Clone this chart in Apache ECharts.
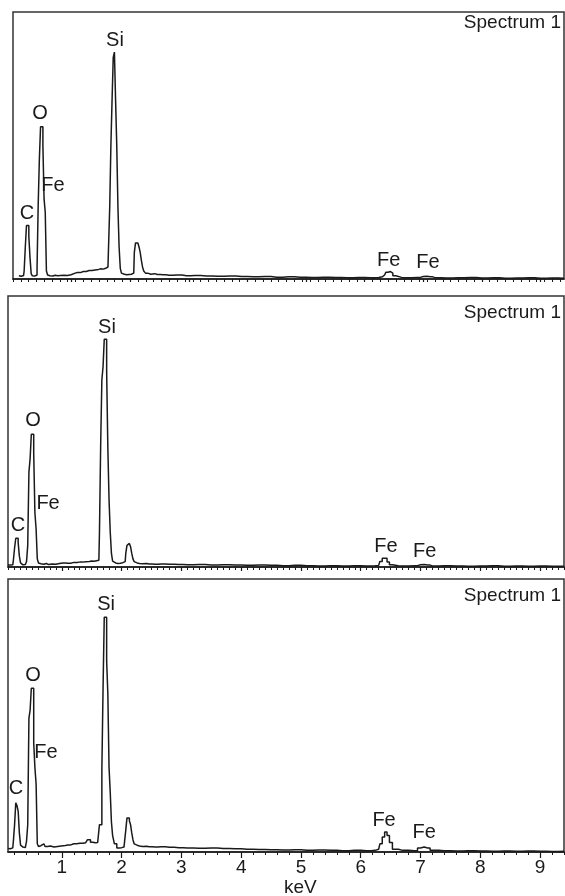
<!DOCTYPE html>
<html>
<head>
<meta charset="utf-8">
<script src="https://cdn.jsdelivr.net/npm/echarts@6/dist/echarts.min.js"></script>
<style>
  html, body { margin: 0; padding: 0; background: #fff; }
  #chart { width: 565px; height: 896px; }
</style>
</head>
<body>
<div id="chart"></div>
<script>
// energy channels (keV), shared by the three spectra
const energy = [
  0.10, 0.14, 0.18, 0.20, 0.22, 0.24, 0.26, 0.28, 0.30, 0.32,
  0.34, 0.36, 0.38, 0.40, 0.42, 0.44, 0.46, 0.48, 0.50, 0.52,
  0.54, 0.56, 0.58, 0.60, 0.62, 0.64, 0.66, 0.70, 0.74, 0.78,
  0.84, 0.90, 0.96, 1.02, 1.10, 1.20, 1.30, 1.40, 1.46, 1.50,
  1.54, 1.58, 1.62, 1.64, 1.66, 1.68, 1.70, 1.72, 1.74, 1.76,
  1.78, 1.80, 1.82, 1.84, 1.86, 1.90, 1.94, 1.98, 2.02, 2.06,
  2.08, 2.10, 2.12, 2.14, 2.16, 2.18, 2.20, 2.22, 2.24, 2.28,
  2.32, 2.38, 2.46, 2.56, 2.66, 2.80, 2.96, 3.10, 3.30, 3.50,
  3.70, 3.90, 4.10, 4.30, 4.50, 4.70, 4.90, 5.10, 5.30, 5.50,
  5.70, 5.90, 6.10, 6.24, 6.30, 6.34, 6.38, 6.42, 6.46, 6.50,
  6.56, 6.70, 6.90, 7.00, 7.06, 7.12, 7.20, 7.40, 7.60, 7.80,
  8.00, 8.20, 8.40, 8.60, 8.80, 9.00, 9.20, 9.40
];
const countsTop = [
  1.2, 1.0, 1.3, 3, 12, 20, 20, 16, 8, 2,
  1.2, 1.1, 1.2, 1.5, 4, 28, 45, 57, 57, 50,
  30, 25, 3, 1.5, 1.2, 1.3, 1.1, 1.4, 1.2, 1.3,
  1.4, 1.3, 1.6, 2.2, 2.4, 2.8, 3.2, 3.4, 3.6, 3.8,
  3.7, 4.0, 4.5, 5, 27, 50, 67, 83, 85, 67,
  50, 27, 12, 4, 2.2, 1.8, 1.6, 1.7, 1.8, 2.2,
  10, 13.5, 13.5, 13, 12, 10, 7, 4.5, 3, 2.2,
  1.8, 2.0, 1.7, 1.6, 1.4, 1.5, 1.2, 1.3, 1.1, 1.0,
  1.1, 0.9, 0.8, 0.9, 0.7, 0.8, 0.7, 0.6, 0.7, 0.6,
  0.5, 0.6, 0.5, 0.6, 0.8, 1.5, 2.5, 2.8, 2.2, 1.2,
  0.6, 0.5, 0.6, 0.9, 1.0, 0.8, 0.5, 0.4, 0.5, 0.6,
  0.4, 0.5, 0.3, 0.4, 0.5, 0.3, 0.4, 0.3
];
const countsMid = [
  0.7, 0.7, 0.8, 2.5, 7, 10.6, 10.6, 9, 4, 1.5,
  0.8, 0.8, 0.9, 1.2, 2, 8, 35, 40, 49, 49,
  42, 20, 14, 3, 1.5, 1.2, 1.4, 1.0, 1.3, 0.9,
  1.1, 1.0, 1.3, 1.5, 1.4, 1.7, 1.8, 1.9, 2.0, 2.2,
  2.1, 2.3, 2.5, 13, 45, 69, 74, 84, 84, 72,
  44, 25, 13, 5, 2.2, 1.5, 1.3, 1.4, 1.6, 2,
  5, 8, 8.7, 8.7, 7.5, 5, 3, 2, 1.5, 1.3,
  1.2, 1.3, 1.1, 1.0, 1.1, 1.0, 0.9, 0.8, 0.9, 0.7,
  0.8, 0.7, 0.6, 0.7, 0.6, 0.5, 0.6, 0.5, 0.4, 0.5,
  0.4, 0.5, 0.4, 0.5, 0.6, 2, 3.2, 3.2, 1.8, 0.8,
  0.5, 0.4, 0.5, 0.8, 0.9, 0.7, 0.4, 0.5, 0.4, 0.3,
  0.4, 0.5, 0.3, 0.4, 0.3, 0.4, 0.3, 0.3
];
const countsBot = [
  1.3, 1.2, 1.5, 4, 10, 18, 17, 15, 7, 2.5,
  1.8, 1.5, 1.6, 2, 4, 10, 49, 52, 60, 60,
  40, 31, 25, 3, 2, 2.3, 3, 3, 2, 2.2,
  1.8, 2.0, 2.2, 2.4, 2.6, 3.0, 3.2, 3.4, 4.5, 3.6,
  3.4, 3.5, 3.8, 10, 10, 30, 60, 86, 86, 70,
  58, 31, 22, 11, 6, 3, 1.5, 1.6, 1.8, 2,
  8, 12.5, 12.5, 11.5, 10, 7, 4.5, 3, 2.5, 2.2,
  2.0, 2.1, 1.9, 1.8, 1.9, 1.7, 1.6, 1.5, 1.4, 1.5,
  1.3, 1.2, 1.0, 0.9, 0.8, 0.7, 0.8, 0.6, 0.7, 0.6,
  0.5, 0.6, 0.5, 0.6, 1, 3, 5.5, 7.3, 6, 3.5,
  1, 0.6, 0.5, 1.5, 1.8, 1.5, 0.6, 0.5, 0.4, 0.5,
  0.4, 0.3, 0.4, 0.3, 0.4, 0.3, 0.2, 0.3
];

const majorTicks = [1, 2, 3, 4, 5, 6, 7, 8, 9];
const peakNames = ['C', 'O', 'Fe', 'Si', 'Fe', 'Fe'];
// where each element label sits, in [keV, counts] of its panel
const labelAtTop = [[0.24, 24.7], [0.46, 62], [0.68, 35], [1.74, 89.5], [6.41, 7.1], [7.08, 6]];
const labelAtMid = [[0.267, 15.5], [0.52, 54], [0.77, 23.6], [1.756, 88.2], [6.42, 7.7], [7.07, 5.9]];
const labelAtBot = [[0.234, 23.4], [0.52, 64.5], [0.735, 36.6], [1.74, 90.8], [6.39, 11.7], [7.06, 7.3]];

const FONT = "'Liberation Sans', Arial, sans-serif";
const ink = '#1a1a1a';

let chart;

const ticksFrom = (start, step, end) => {
  const out = [];
  for (let i = 0; start + i * step <= end + 1e-9; i++) {
    out.push(Math.round((start + i * step) * 1000) / 1000);
  }
  return out;
};

const initChart = () => {
  const panels = [
    { grid: { left: 13, right: 1, top: 12, bottom: 617 }, min: 0, max: 9.4,
      counts: countsTop, labels: labelAtTop, minor: ticksFrom(0, 2 / 15, 9.4), majorLen: 3, showLabels: false, titleTop: 13 },
    { grid: { left: 8, right: 1, top: 296, bottom: 329 }, min: 0.1, max: 9.4,
      counts: countsMid, labels: labelAtMid, minor: ticksFrom(0.1, 0.1, 9.4), majorLen: 4, showLabels: false, titleTop: 303 },
    { grid: { left: 8, right: 1, top: 579, bottom: 44 }, min: 0.1, max: 9.4,
      counts: countsBot, labels: labelAtBot, minor: ticksFrom(0.2, 0.2, 9.4), majorLen: 6, showLabels: true, titleTop: 586 },
  ];

  const grid = [];
  const xAxis = [];
  const yAxis = [];
  const series = [];
  const title = [];

  panels.forEach((p, i) => {
    grid.push(Object.assign({ show: true, borderColor: '#333', borderWidth: 1.5, backgroundColor: 'transparent' }, p.grid));
    // major ticks + labels
    xAxis.push({
      type: 'value', gridIndex: i, min: p.min, max: p.max,
      axisLine: { show: true, lineStyle: { color: ink, width: 1.5 } },
      axisTick: { show: true, length: p.majorLen, customValues: majorTicks, lineStyle: { color: ink, width: 1.2 } },
      axisLabel: { show: p.showLabels, customValues: majorTicks, margin: 6, color: ink, fontSize: 19, fontFamily: FONT },
      splitLine: { show: false },
    });
    // small ticks
    xAxis.push({
      type: 'value', gridIndex: i, min: p.min, max: p.max, position: 'bottom',
      axisLine: { show: false },
      axisTick: { show: true, length: 3, customValues: p.minor, lineStyle: { color: ink, width: 1 } },
      axisLabel: { show: false, customValues: p.minor },
      splitLine: { show: false },
    });
    yAxis.push({ type: 'value', gridIndex: i, min: 0, max: 100, show: false });

    series.push({
      type: 'line', xAxisIndex: i * 2, yAxisIndex: i,
      step: 'middle', symbol: 'none', silent: true,
      lineStyle: { color: ink, width: 1.5 },
      data: energy.map((e, k) => [e, p.counts[k]]),
    });
    series.push({
      type: 'scatter', xAxisIndex: i * 2, yAxisIndex: i,
      symbolSize: 0, silent: true,
      itemStyle: { opacity: 1 },
      label: { show: true, position: 'inside', formatter: '{b}', color: ink, opacity: 1, fontSize: 20, fontFamily: FONT },
      data: p.labels.map((pos, k) => ({ name: peakNames[k], value: pos })),
    });
    title.push({
      text: 'Spectrum 1', right: 4, top: p.titleTop, padding: 0,
      textStyle: { fontSize: 19, fontWeight: 'normal', color: ink, fontFamily: FONT },
    });
  });

  chart.setOption({
    animation: false,
    title,
    grid,
    xAxis,
    yAxis,
    series,
    graphic: [
      { type: 'text', left: 284, top: 878, style: { text: 'keV', fill: ink, font: '19px ' + FONT } },
    ],
  });
};

chart = echarts.init(document.getElementById('chart'));
initChart();
window.addEventListener('resize', () => {
  chart.resize();
});
</script>
</body>
</html>
